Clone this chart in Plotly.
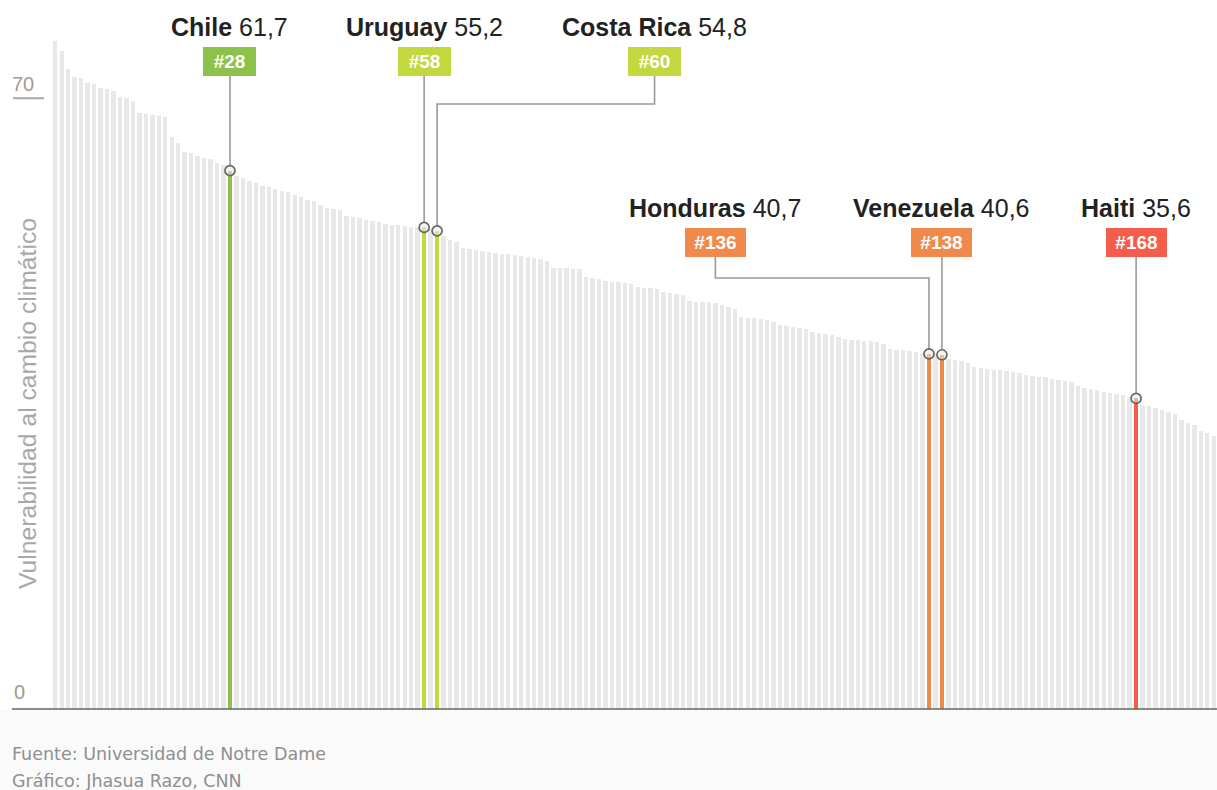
import plotly.graph_objects as go

# ---------------- data ----------------
scores = [
    76.6, 75.4, 73.4, 72.4, 72.3, 71.7, 71.6, 71.2, 71.1, 70.8,
    70.1, 70.0, 69.7, 68.3, 68.2, 68.1, 68.0, 67.9, 65.6, 64.9,
    63.8, 63.7, 63.4, 63.2, 63.0, 62.6, 62.3, 61.7, 61.1, 60.9,
    60.5, 60.3, 59.9, 59.8, 59.6, 59.4, 59.3, 58.9, 58.7, 58.3,
    58.2, 57.8, 57.4, 57.3, 57.2, 56.5, 56.4, 56.3, 56.0, 55.9,
    55.8, 55.6, 55.5, 55.5, 55.4, 55.3, 55.3, 55.2, 55.0, 54.8,
    54.2, 53.7, 53.5, 52.8, 52.7, 52.6, 52.5, 52.4, 52.3, 52.2,
    52.1, 52.0, 51.9, 51.8, 51.7, 51.6, 51.4, 50.6, 50.5, 50.5,
    50.4, 50.4, 49.5, 49.4, 49.3, 49.0, 48.9, 48.9, 48.8, 48.7,
    48.4, 48.3, 48.2, 48.1, 47.8, 47.7, 47.6, 47.5, 46.8, 46.7,
    46.7, 46.6, 46.5, 46.3, 46.1, 45.9, 44.9, 44.8, 44.8, 44.7,
    44.6, 44.4, 44.0, 43.9, 43.8, 43.7, 43.6, 43.2, 43.1, 43.0,
    42.9, 42.6, 42.4, 42.3, 42.3, 42.2, 42.2, 42.1, 41.8, 41.3,
    41.2, 41.1, 41.0, 40.9, 40.8, 40.7, 40.65, 40.6, 40.1, 40.0,
    39.9, 39.6, 39.2, 39.1, 39.0, 38.9, 38.8, 38.7, 38.6, 38.5,
    38.3, 38.2, 38.1, 38.0, 37.8, 37.7, 37.6, 37.5, 37.0, 36.8,
    36.7, 36.6, 36.3, 36.2, 36.1, 36.0, 35.8, 35.6, 34.9, 34.7,
    34.5, 34.3, 34.0, 33.8, 33.1, 32.8, 32.6, 31.9, 31.6, 31.3,
]
ranks = list(range(1, len(scores) + 1))

hl_countries = ["Chile", "Uruguay", "Costa Rica", "Honduras", "Venezuela", "Haiti"]
hl_ranks = [28, 58, 60, 136, 138, 168]
hl_values = [61.7, 55.2, 54.8, 40.7, 40.6, 35.6]

# ---------------- styling / layout constants ----------------
hl_colors = ["#8cc24a", "#c3d83e", "#c3d83e", "#f08a4b", "#f08a4b", "#f45c4c"]
label_x = [28, 58, 93.6, 103, 138, 168]          # label column (in rank units)
label_row = ["top", "top", "top", "low", "low", "low"]
elbow = [None, None, "top", "low", None, None]

GRAY_BAR = "#e8e8e8"
Y_MAX = 80
W, H = 1217, 790
ML, MR, MT, MB = 52, 0, 11, 81
PLOT_W = W - ML - MR
PLOT_H = H - MT - MB
PX_PER_UNIT = PLOT_H / Y_MAX

def py_to_val(py):
    """pixel row (from top of page) -> data value"""
    return (H - MB - py) / PX_PER_UNIT

def px_to_paper(px):
    return (px - ML) / PLOT_W

def py_to_paper(py):
    return (H - MB - py) / PLOT_H

row_name_y = {"top": py_to_val(27), "low": py_to_val(208)}
row_box_y = {"top": py_to_val(61), "low": py_to_val(242)}
row_box_bottom = {"top": py_to_val(75), "low": py_to_val(256)}
row_elbow = {"top": py_to_val(104), "low": py_to_val(278)}
MARK_R = 5.0 / PX_PER_UNIT

FONT = "Liberation Sans, Arial, sans-serif"

bar_colors = [GRAY_BAR] * len(scores)
for r, c in zip(hl_ranks, hl_colors):
    bar_colors[r - 1] = c

fig = go.Figure()

fig.add_trace(go.Bar(
    x=ranks, y=scores, marker=dict(color=bar_colors, line=dict(width=0)),
    width=0.68, hoverinfo="x+y", showlegend=False,
))

# leader lines
for i in range(len(hl_countries)):
    r = hl_ranks[i]
    v = hl_values[i]
    row = label_row[i]
    xs = [label_x[i], label_x[i]]
    ys = [row_box_bottom[row], row_elbow[row] if elbow[i] else v + MARK_R]
    if elbow[i]:
        xs += [r, r]
        ys += [row_elbow[row], v + MARK_R]
    fig.add_trace(go.Scatter(
        x=xs, y=ys, mode="lines", line=dict(color="#9a9a9a", width=1.6),
        hoverinfo="skip", showlegend=False,
    ))

# markers at bar tops
fig.add_trace(go.Scatter(
    x=hl_ranks, y=hl_values, mode="markers",
    marker=dict(symbol="circle", size=10, color="rgba(235,235,235,0.55)",
                line=dict(color="#666666", width=1.7)),
    hoverinfo="skip", showlegend=False,
))

annotations = []
for i, name in enumerate(hl_countries):
    row = label_row[i]
    val_txt = f"{hl_values[i]:.1f}".replace(".", ",")
    annotations.append(dict(
        x=label_x[i], y=row_name_y[row], xref="x", yref="y",
        text=f"<b>{name}</b> {val_txt}", showarrow=False,
        xanchor="center", yanchor="middle",
        font=dict(family=FONT, size=25, color="#222222"),
    ))
    tag = f"#{hl_ranks[i]}"
    annotations.append(dict(
        x=label_x[i], y=row_box_y[row], xref="x", yref="y",
        text=f"<b>{tag}</b>", showarrow=False,
        xanchor="center", yanchor="middle",
        width=45 if len(tag) <= 3 else 53, height=21, borderpad=3,
        bgcolor=hl_colors[i], bordercolor=hl_colors[i],
        font=dict(family=FONT, size=19, color="white"),
    ))

# axis text
annotations.append(dict(
    x=px_to_paper(23), y=py_to_paper(84), xref="paper", yref="paper",
    text="70", showarrow=False, xanchor="center", yanchor="middle",
    font=dict(family=FONT, size=20, color="#a09a94"),
))
annotations.append(dict(
    x=px_to_paper(19), y=py_to_paper(692), xref="paper", yref="paper",
    text="0", showarrow=False, xanchor="center", yanchor="middle",
    font=dict(family=FONT, size=20, color="#a09a94"),
))
annotations.append(dict(
    x=px_to_paper(27), y=py_to_paper(404), xref="paper", yref="paper",
    text="Vulnerabilidad al cambio climático", showarrow=False, textangle=-90,
    xanchor="center", yanchor="middle",
    font=dict(family=FONT, size=24.7, color="#a8a8a8"),
))
annotations.append(dict(
    x=px_to_paper(10), y=py_to_paper(754), xref="paper", yref="paper",
    text="Fuente: Universidad de Notre Dame", showarrow=False,
    xanchor="left", yanchor="middle",
    font=dict(family="DejaVu Sans, sans-serif", size=17.5, color="#8f8f8f"),
))
annotations.append(dict(
    x=px_to_paper(10), y=py_to_paper(781), xref="paper", yref="paper",
    text="Gráfico: Jhasua Razo, CNN", showarrow=False,
    xanchor="left", yanchor="middle",
    font=dict(family="DejaVu Sans, sans-serif", size=17.5, color="#8f8f8f"),
))

shapes = [
    dict(type="rect", xref="paper", yref="paper",
         x0=px_to_paper(0), x1=1.0, y0=py_to_paper(H), y1=0,
         fillcolor="#fafafa", line=dict(width=0), layer="below"),
    dict(type="line", xref="paper", yref="paper",
         x0=px_to_paper(12), x1=1.0, y0=0, y1=0,
         line=dict(color="#666666", width=1.5), layer="above"),
    dict(type="line", xref="paper", yref="paper",
         x0=px_to_paper(13), x1=px_to_paper(44), y0=70 / Y_MAX, y1=70 / Y_MAX,
         line=dict(color="#a8a8a8", width=2), layer="above"),
]

fig.update_layout(
    width=W, height=H,
    margin=dict(l=ML, r=MR, t=MT, b=MB, pad=0),
    paper_bgcolor="white", plot_bgcolor="white",
    bargap=0,
    xaxis=dict(range=[0.5, len(scores) + 0.5], visible=False, fixedrange=True),
    yaxis=dict(range=[0, Y_MAX], visible=False, fixedrange=True),
    annotations=annotations, shapes=shapes,
    showlegend=False,
)

fig.write_html("out.html")
